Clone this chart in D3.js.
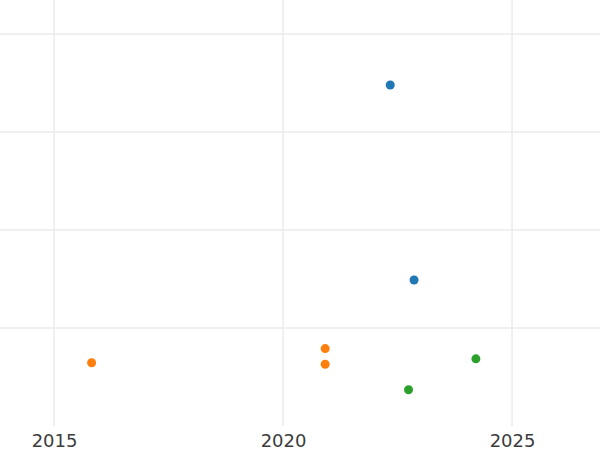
<!DOCTYPE html>
<html>
<head>
<meta charset="utf-8">
<script src="https://cdn.jsdelivr.net/npm/d3@7"></script>
<style>
  body { margin: 0; background: #fff; }
  svg { display: block; font-family: "DejaVu Sans", sans-serif; }
</style>
</head>
<body>
<div id="chart"></div>
<script>
// values
const groups = ["blue", "orange", "green"];
const groupColors = ["#1f77b4", "#ff7f0e", "#2ca02c"];
const blueYears = [2022.34, 2022.86];
const blueValues = [34.8, 14.9];
const orangeYears = [2015.82, 2020.92, 2020.92];
const orangeValues = [6.45, 7.9, 6.3];
const greenYears = [2022.74, 2024.21];
const greenValues = [3.7, 6.85];
const xTicks = [2015, 2020, 2025];
const yTicks = [10, 20, 30, 40];

const width = 600, height = 450;
const plotBottom = 426;

const svg = d3.select("#chart").append("svg")
    .attr("width", width)
    .attr("height", height);

const x = d3.scaleLinear()
    .domain([2013.82, 2026.92])
    .range([0, width]);

const y = d3.scaleLinear()
    .domain([0, 43.47])
    .range([plotBottom, 0]);

// grid
svg.append("g")
    .selectAll("line")
    .data(yTicks)
    .enter()
    .append("line")
    .attr("x1", 0)
    .attr("x2", width)
    .attr("y1", d => y(d))
    .attr("y2", d => y(d))
    .attr("stroke", "#ebebeb")
    .attr("stroke-width", 1.3);

svg.append("g")
    .selectAll("line")
    .data(xTicks)
    .enter()
    .append("line")
    .attr("x1", d => x(d))
    .attr("x2", d => x(d))
    .attr("y1", 0)
    .attr("y2", plotBottom)
    .attr("stroke", "#ebebeb")
    .attr("stroke-width", 1.5);

// x axis labels
const xAxis = d3.axisBottom(x)
    .tickValues(xTicks)
    .tickFormat(d3.format("d"))
    .tickSize(0)
    .tickPadding(8);

const ax = svg.append("g")
    .attr("transform", "translate(0," + plotBottom + ")")
    .call(xAxis);
ax.select(".domain").remove();
ax.selectAll("text")
    .attr("fill", "#3c3c3c")
    .style("font-size", "18px")
    .style("font-family", "DejaVu Sans, sans-serif");

// points
const series = [
    {years: blueYears, values: blueValues},
    {years: orangeYears, values: orangeValues},
    {years: greenYears, values: greenValues}
];

series.forEach(function (s, i) {
    svg.append("g")
        .attr("class", "series-" + groups[i])
        .selectAll("circle")
        .data(s.years.map((yr, j) => [yr, s.values[j]]))
        .enter()
        .append("circle")
        .attr("cx", d => x(d[0]))
        .attr("cy", d => y(d[1]))
        .attr("r", 4.5)
        .attr("fill", groupColors[i]);
});
</script>
</body>
</html>
